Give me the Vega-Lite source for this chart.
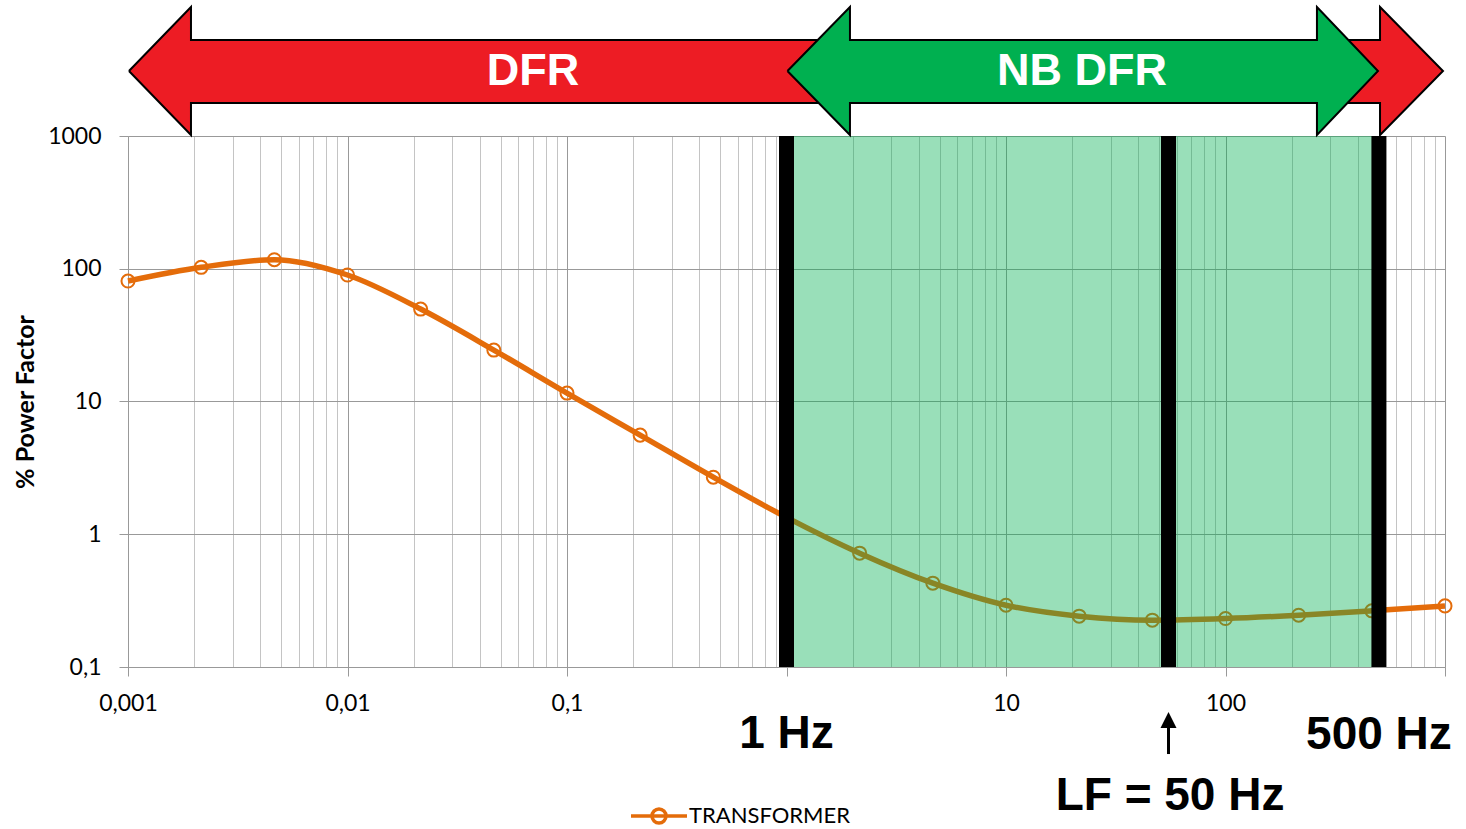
{
  "$schema": "https://vega.github.io/schema/vega-lite/v6.json",
  "width": 1317,
  "height": 531,
  "autosize": {"type": "none"},
  "padding": {"left": 128, "top": 136, "right": 21, "bottom": 162},
  "background": "white",
  "config": {
    "view": {"stroke": null},
    "font": "Lato",
    "axis": {
      "labelFont": "Lato",
      "labelFontSize": 23,
      "labelColor": "#000000",
      "domainColor": "#999999",
      "tickColor": "#999999",
      "gridColor": "#999999",
      "tickSize": 9,
      "labelOverlap": false,
      "labelFlush": false
    }
  },
  "datasets": {
    "curve": [
      {"f": 0.001, "v": 80.8, "series": "TRANSFORMER"},
      {"f": 0.002154, "v": 102.5, "series": "TRANSFORMER"},
      {"f": 0.004642, "v": 117, "series": "TRANSFORMER"},
      {"f": 0.01, "v": 89.7, "series": "TRANSFORMER"},
      {"f": 0.02154, "v": 49.7, "series": "TRANSFORMER"},
      {"f": 0.04642, "v": 24.4, "series": "TRANSFORMER"},
      {"f": 0.1, "v": 11.57, "series": "TRANSFORMER"},
      {"f": 0.2154, "v": 5.58, "series": "TRANSFORMER"},
      {"f": 0.4642, "v": 2.69, "series": "TRANSFORMER"},
      {"f": 1, "v": 1.34, "series": "TRANSFORMER"},
      {"f": 2.154, "v": 0.72, "series": "TRANSFORMER"},
      {"f": 4.642, "v": 0.428, "series": "TRANSFORMER"},
      {"f": 10, "v": 0.292, "series": "TRANSFORMER"},
      {"f": 21.54, "v": 0.2415, "series": "TRANSFORMER"},
      {"f": 46.42, "v": 0.2253, "series": "TRANSFORMER"},
      {"f": 100, "v": 0.2318, "series": "TRANSFORMER"},
      {"f": 215.4, "v": 0.2455, "series": "TRANSFORMER"},
      {"f": 464.2, "v": 0.265, "series": "TRANSFORMER"},
      {"f": 1000, "v": 0.2886, "series": "TRANSFORMER"}
    ],
    "arrows": [
      {"arrow": "red", "i": 0, "f": 0.00101, "v": 3090},
      {"arrow": "red", "i": 1, "f": 0.001936, "v": 9380},
      {"arrow": "red", "i": 2, "f": 0.001936, "v": 5290},
      {"arrow": "red", "i": 3, "f": 505.8, "v": 5290},
      {"arrow": "red", "i": 4, "f": 505.8, "v": 9380},
      {"arrow": "red", "i": 5, "f": 979, "v": 3090},
      {"arrow": "red", "i": 6, "f": 505.8, "v": 1017},
      {"arrow": "red", "i": 7, "f": 505.8, "v": 1773},
      {"arrow": "red", "i": 8, "f": 0.001936, "v": 1773},
      {"arrow": "red", "i": 9, "f": 0.001936, "v": 1017},
      {"arrow": "red", "i": 10, "f": 0.00101, "v": 3090},
      {"arrow": "green", "i": 0, "f": 1.01, "v": 3090},
      {"arrow": "green", "i": 1, "f": 1.946, "v": 9380},
      {"arrow": "green", "i": 2, "f": 1.946, "v": 5290},
      {"arrow": "green", "i": 3, "f": 261, "v": 5290},
      {"arrow": "green", "i": 4, "f": 261, "v": 9380},
      {"arrow": "green", "i": 5, "f": 495, "v": 3090},
      {"arrow": "green", "i": 6, "f": 261, "v": 1017},
      {"arrow": "green", "i": 7, "f": 261, "v": 1773},
      {"arrow": "green", "i": 8, "f": 1.946, "v": 1773},
      {"arrow": "green", "i": 9, "f": 1.946, "v": 1017},
      {"arrow": "green", "i": 10, "f": 1.01, "v": 3090}
    ]
  },
  "layer": [
    {
      "data": {"name": "curve"},
      "mark": {"type": "line", "interpolate": "monotone", "strokeWidth": 5.5},
      "encoding": {
        "x": {
          "field": "f", "type": "quantitative",
          "scale": {"type": "log", "domain": [0.001, 1000], "nice": false},
          "axis": {
            "title": null,
            "values": [0.001,0.002,0.003,0.004,0.005,0.006,0.007,0.008,0.009,0.01,0.02,0.03,0.04,0.05,0.06,0.07,0.08,0.09,0.1,0.2,0.3,0.4,0.5,0.6,0.7,0.8,0.9,1,2,3,4,5,6,7,8,9,10,20,30,40,50,60,70,80,90,100,200,300,400,500,600,700,800,900,1000],
            "labelExpr": "indexof([0.001,0.01,0.1,10,100], datum.value) >= 0 ? replace(toString(datum.value), '.', ',') : ''",
            "gridColor": {"condition": {"test": "indexof([0.001,0.01,0.1,1,10,100,1000], datum.value) >= 0", "value": "#999999"}, "value": "#c4c4c4"},
            "tickOpacity": {"condition": {"test": "indexof([0.001,0.01,0.1,1,10,100,1000], datum.value) >= 0", "value": 1}, "value": 0},
            "labelPadding": 16,
            "grid": true
          }
        },
        "y": {
          "field": "v", "type": "quantitative",
          "scale": {"type": "log", "domain": [0.1, 1000], "nice": false},
          "axis": {
            "title": "% Power Factor",
            "titleFont": "Lato",
            "titleFontSize": 25,
            "titleFontWeight": "bold",
            "titleColor": "#000000",
            "titlePadding": 9,
            "values": [0.1, 1, 10, 100, 1000],
            "labelExpr": "replace(toString(datum.value), '.', ',')",
            "labelPadding": 18,
            "grid": true
          }
        },
        "color": {
          "field": "series", "type": "nominal",
          "scale": {"domain": ["TRANSFORMER"], "range": ["#e46c0a"]},
          "legend": {
            "title": null,
            "orient": "none",
            "legendX": 501,
            "legendY": 650,
            "padding": 0,
            "symbolType": "M -1 0 L 1 0 M 0.25 0 A 0.25 0.25 0 1 1 -0.25 0 A 0.25 0.25 0 1 1 0.25 0",
            "symbolSize": 3136,
            "symbolStrokeWidth": 3.5,
            "symbolFillColor": "transparent",
            "symbolStrokeColor": "#e46c0a",
            "labelFont": "Lato",
            "labelFontSize": 22,
            "labelColor": "#000000",
            "labelOffset": 0,
            "labelLimit": 400
          }
        }
      }
    },
    {
      "data": {"name": "curve"},
      "mark": {"type": "point", "shape": "circle", "filled": false, "size": 170, "strokeWidth": 2, "color": "#e46c0a", "opacity": 1},
      "encoding": {
        "x": {"field": "f", "type": "quantitative", "scale": {"type": "log", "domain": [0.001, 1000], "nice": false}},
        "y": {"field": "v", "type": "quantitative", "scale": {"type": "log", "domain": [0.1, 1000], "nice": false}}
      }
    },
    {
      "data": {"values": [{"f": 1, "f2": 500}]},
      "mark": {"type": "rect", "color": "#00b050", "opacity": 0.4},
      "encoding": {
        "x": {"field": "f", "type": "quantitative", "scale": {"type": "log", "domain": [0.001, 1000], "nice": false}},
        "x2": {"field": "f2"}
      }
    },
    {
      "data": {"values": [{"f": 1}, {"f": 55}, {"f": 500}]},
      "mark": {"type": "rule", "color": "#000000", "strokeWidth": 15},
      "encoding": {
        "x": {"field": "f", "type": "quantitative", "scale": {"type": "log", "domain": [0.001, 1000], "nice": false}}
      }
    },
    {
      "data": {"name": "arrows"},
      "transform": [{"filter": "datum.arrow == 'red'"}],
      "mark": {"type": "line", "fill": "#ed1c24", "stroke": "#000000", "strokeWidth": 2, "strokeJoin": "miter"},
      "encoding": {
        "x": {"field": "f", "type": "quantitative", "scale": {"type": "log", "domain": [0.001, 1000], "nice": false}},
        "y": {"field": "v", "type": "quantitative", "scale": {"type": "log", "domain": [0.1, 1000], "nice": false}},
        "order": {"field": "i", "type": "quantitative"}
      }
    },
    {
      "data": {"name": "arrows"},
      "transform": [{"filter": "datum.arrow == 'green'"}],
      "mark": {"type": "line", "fill": "#00b050", "stroke": "#000000", "strokeWidth": 2, "strokeJoin": "miter"},
      "encoding": {
        "x": {"field": "f", "type": "quantitative", "scale": {"type": "log", "domain": [0.001, 1000], "nice": false}},
        "y": {"field": "v", "type": "quantitative", "scale": {"type": "log", "domain": [0.1, 1000], "nice": false}},
        "order": {"field": "i", "type": "quantitative"}
      }
    },
    {
      "data": {"values": [{"f": 0.07, "v": 2423, "t": "DFR"}, {"f": 22.2, "v": 2423, "t": "NB DFR"}]},
      "mark": {"type": "text", "font": "Liberation Sans", "fontWeight": "bold", "fontSize": 45, "color": "#ffffff", "align": "center", "baseline": "alphabetic"},
      "encoding": {
        "x": {"field": "f", "type": "quantitative", "scale": {"type": "log", "domain": [0.001, 1000], "nice": false}},
        "y": {"field": "v", "type": "quantitative", "scale": {"type": "log", "domain": [0.1, 1000], "nice": false}},
        "text": {"field": "t"}
      }
    },
    {
      "data": {"values": [{"f": 1.0, "v": 0.0245, "t": "1 Hz"}, {"f": 500, "v": 0.0241, "t": "500 Hz"}, {"f": 55.9, "v": 0.00836, "t": "LF = 50 Hz"}]},
      "mark": {"type": "text", "font": "Liberation Sans", "fontWeight": "bold", "fontSize": 46, "color": "#000000", "align": "center", "baseline": "alphabetic"},
      "encoding": {
        "x": {"field": "f", "type": "quantitative", "scale": {"type": "log", "domain": [0.001, 1000], "nice": false}},
        "y": {"field": "v", "type": "quantitative", "scale": {"type": "log", "domain": [0.1, 1000], "nice": false}},
        "text": {"field": "t"}
      }
    },
    {
      "data": {"values": [{"f": 55, "v": 0.0221, "v2": 0.0355}]},
      "mark": {"type": "rule", "color": "#000000", "strokeWidth": 3},
      "encoding": {
        "x": {"field": "f", "type": "quantitative", "scale": {"type": "log", "domain": [0.001, 1000], "nice": false}},
        "y": {"field": "v", "type": "quantitative", "scale": {"type": "log", "domain": [0.1, 1000], "nice": false}},
        "y2": {"field": "v2"}
      }
    },
    {
      "data": {"values": [{"f": 55, "v": 0.0399}]},
      "mark": {"type": "point", "shape": "M 0 -1 L 1 1 L -1 1 Z", "filled": true, "size": 256, "color": "#000000", "opacity": 1},
      "encoding": {
        "x": {"field": "f", "type": "quantitative", "scale": {"type": "log", "domain": [0.001, 1000], "nice": false}},
        "y": {"field": "v", "type": "quantitative", "scale": {"type": "log", "domain": [0.1, 1000], "nice": false}}
      }
    }
  ]
}
